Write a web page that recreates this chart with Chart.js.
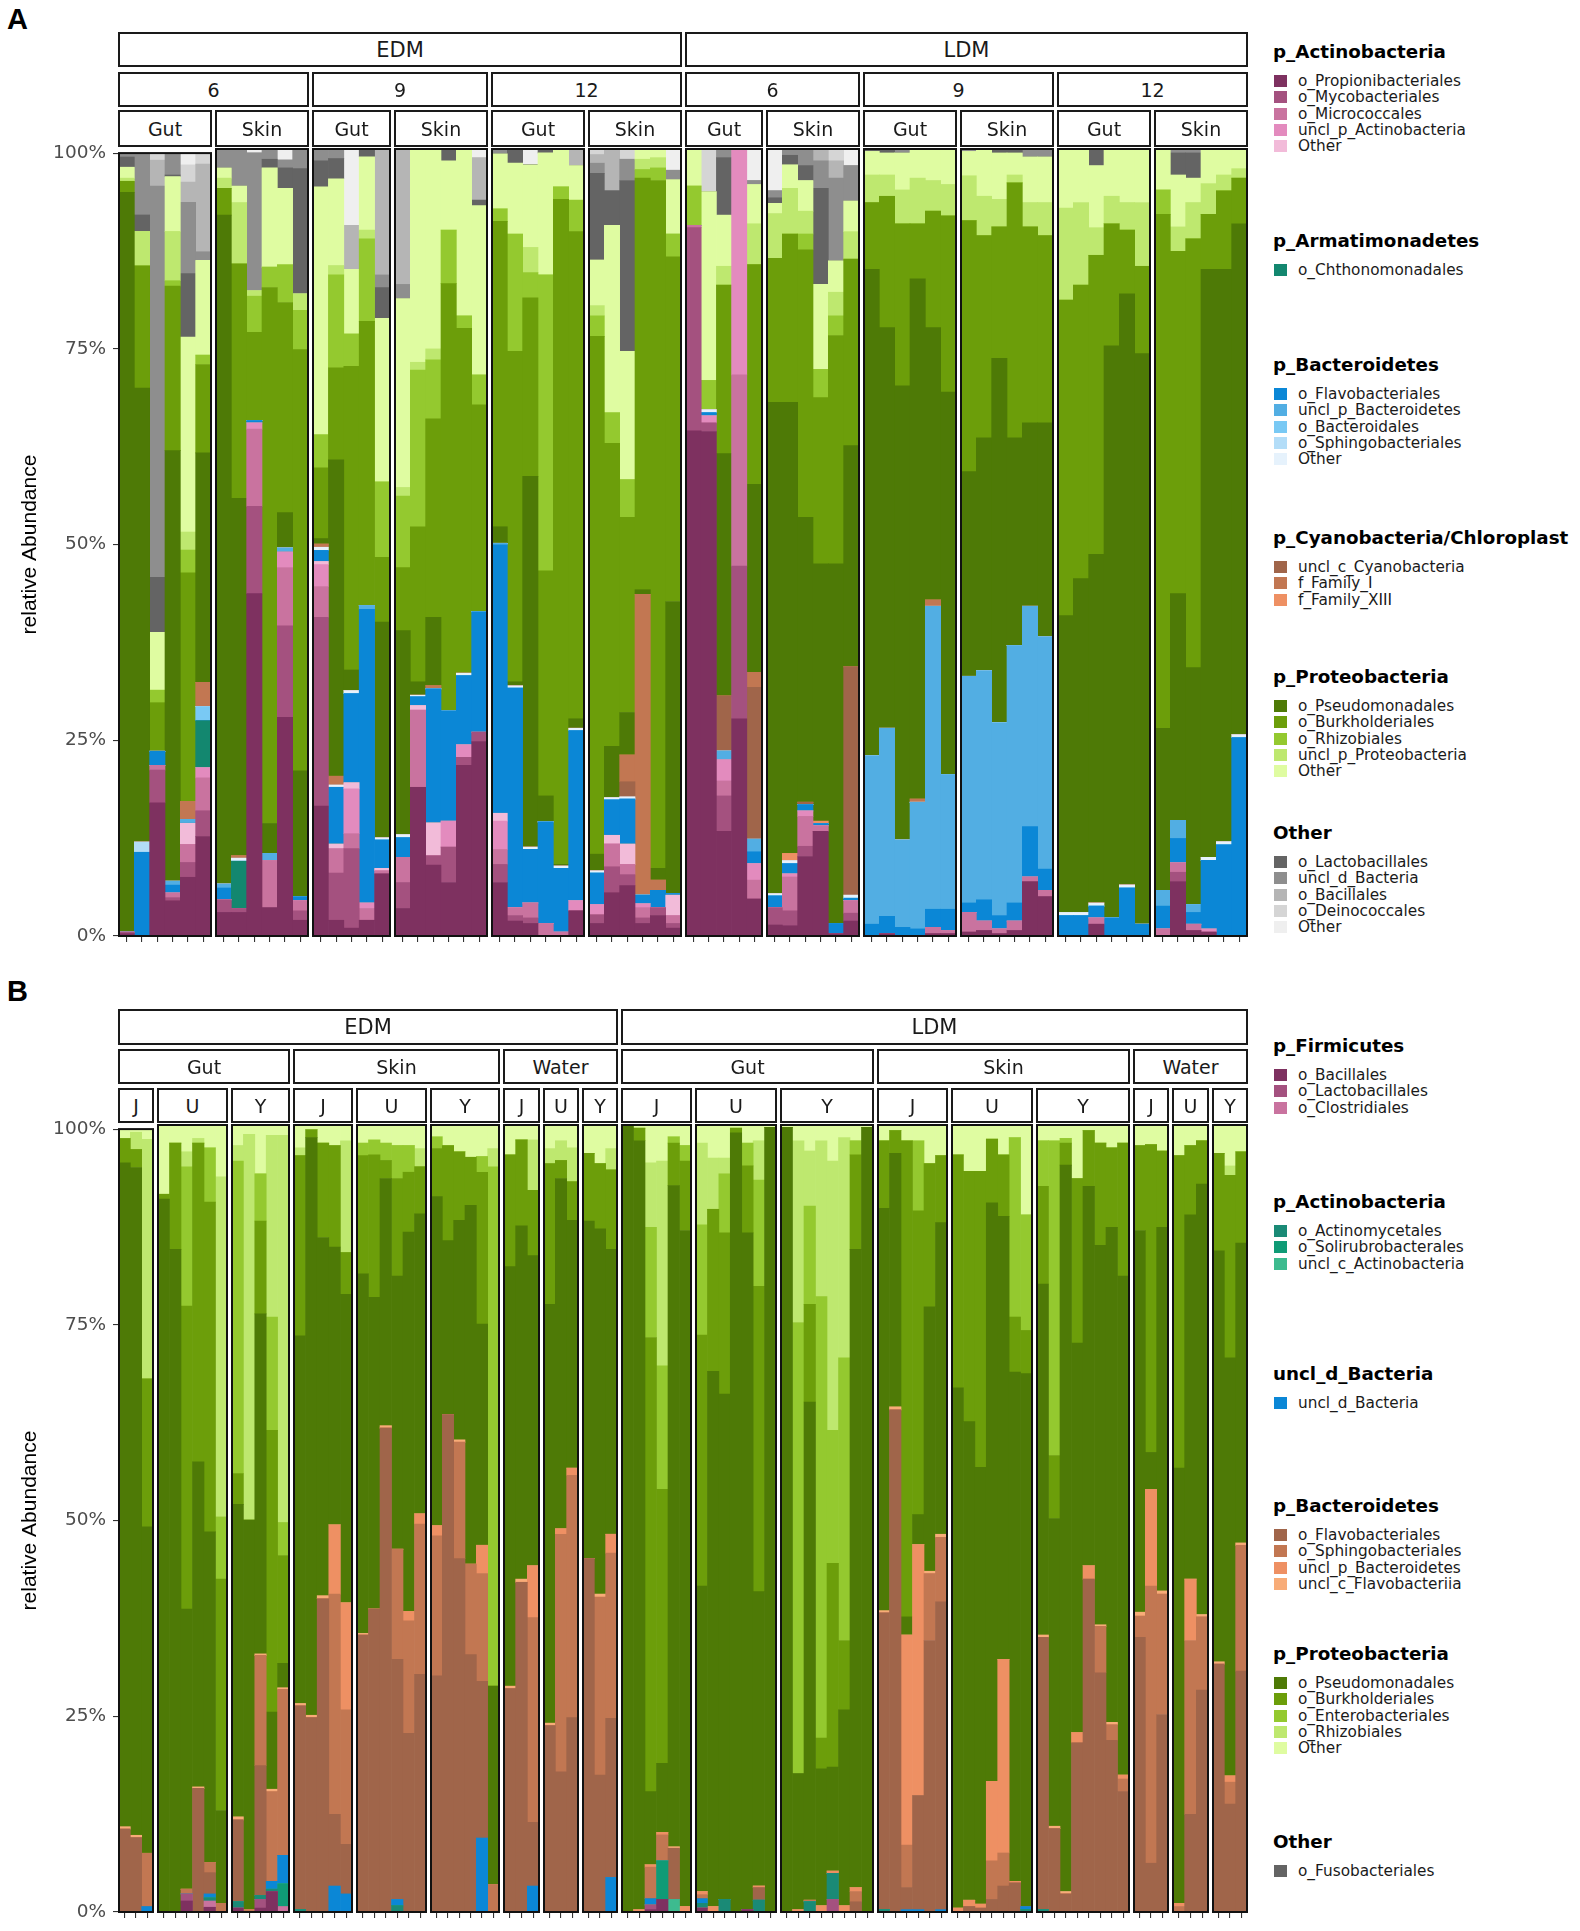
<!DOCTYPE html>
<html><head><meta charset="utf-8">
<script src="https://cdn.jsdelivr.net/npm/chart.js@4.4.1/dist/chart.umd.min.js"></script>
<style>
html,body{margin:0;padding:0;background:#fff;}
#root{position:relative;width:1580px;height:1931px;overflow:hidden;font-family:"DejaVu Sans",sans-serif;background:#fff;}
.strip{position:absolute;box-sizing:border-box;border:2px solid #1a1a1a;background:#fff;display:flex;align-items:center;justify-content:center;font-size:19px;color:#1a1a1a;white-space:nowrap;overflow:hidden;}
.strip.big{font-size:21px;}
.tag{position:absolute;font-family:"Liberation Sans",Arial,sans-serif;font-weight:bold;font-size:29px;line-height:29px;color:#000;}
.lg-title{position:absolute;font-weight:bold;font-size:18.3px;height:22px;line-height:22px;white-space:nowrap;color:#000;}
.lg-key{position:absolute;width:13px;height:12px;}
.lg-text{position:absolute;font-size:15.3px;height:20px;line-height:20px;white-space:nowrap;color:#1a1a1a;}
</style></head>
<body><div id="root"></div>
<script>
// ---------------- DATA : panel A (70 samples) ----------------
const A_facetBars = [6,6,5,6,6,6, 5,6,6,6,6,6];
const A_level1 = ['EDM','LDM'];
const A_level2 = ['6','9','12'];
const A_level3 = ['Gut','Skin'];

const A_Propionibacteriales = [.3,0,17,4.5,7.5,12.7,3,3,43.5,3.6, 27.8,2,16.5,2,1,2,7.9,3.5,18.9,9, 6.8,21.7,24.7,6.8,1.9,1.6,0,0,3.2,1.6, 5.5,6.4,1.6,2.6,1,64.2,64.1,13.3,27.6,4.7, 1.4,1.3,10.1,13.3,.3,1.9,0,.3,0,0, .3,.3,.5,.7,.3,.7,6.9,5,0,0, 1.5,0,0,0,0,6.9,.7,.5,0,0];
const A_Mycobacteriales = [.2,0,4.2,.4,1.9,3.3,1.6,.5,11.1,0, 11.6,1.2,24,6,10.1,0,0,3.3,0,1.2, 4.5,1,1.2,2.3,.7,.7,0,0,0,1.1, 3.3,1.4,.7,1,.6,25.8,1.1,4.5,19.4,0, 2.2,1.9,1.3,0,0,1,0,0,0,0, 0,0,0,0,0,0,0,0,0,0, 0,0,0,0,0,1.2,0,0,0,0];
const A_Micrococcales = [0,0,.6,.6,2.3,4.2,0,0,9.8,6, 7.4,1.3,3.9,3.1,1.9,1.5,.4,3.2,9.8,0, 0,0,0,1.9,1,1.9,1.6,.5,0,0, 2.9,1.3,1.3,0,1,.3,0,1.9,24.3,2.4, 0,4.3,3.8,.7,0,1.6,0,0,0,0, .8,.4,2.5,1.2,.6,1.2,.6,.8,0,0, .8,0,0,0,.9,1.2,.8,0,0,0];
const A_unclActinobacteria = [0,0,0,0,0,1.3,0,0,.8,0, 2,0,2.8,0,5.7,.7,0,0,0,0, 3.3,1.6,0,3.6,0,0,0,0,1.3,1.3, 0,0,.5,0,0,0,.9,2.7,28.7,2.1, 0,.4,.7,0,0,0,0,0,0,0, 0,0,0,0,0,0,0,0,0,0, 0,0,0,0,0,0,0,.4,0,0];
const A_otherActinobacteria = [0,0,0,0,2.7,0,0,0,0,0, 0,0,.4,.6,.8,0,.3,0,.6,4.2, 0,0,0,1,0,0,0,0,0,0, 1.1,2.6,0,0,2.6,0,0,0,0,0, 0,0,0,0,0,0,0,0,0,0, 0,0,0,0,0,0,0,0,0,0, 0,0,0,0,0,0,0,0,0,0];
const A_Chthonomonadales = [0,0,0,0,0,6,0,6,0,0, 0,0,0,0,0,0,0,0,0,0, 0,0,0,0,0,0,0,0,0,0, 0,0,0,0,0,0,0,0,0,0, 0,0,0,0,0,0,0,0,0,0, 0,0,0,0,0,0,0,0,0,0, 0,0,0,0,0,0,0,0,0,0];
const A_Flavobacteriales = [0,10.7,1.8,1,0,0,1.5,0,.3,0, 0,.5,1.4,7.2,11.3,37.3,3.6,2.5,1.1,17, 14,8.8,15.3,34.1,27.9,6.8,12.9,8.1,21.6,4, 4.5,5.7,1.1,2.2,.2,0,.4,0,0,1.5, 1.5,1.3,.8,.3,1.3,.3,1.5,2.2,1.1,.9, 2.3,2.7,1.2,2.7,1.7,2.3,6.4,2.7,2.6,2.6, 1.5,2.3,6.1,1.5,2.9,3.1,1.5,8.7,11.6,25.2];
const A_unclBacteroidetes = [0,0,0,.5,.5,0,.5,0,0,.9, .5,0,0,0,0,.5,0,0,0,0, 0,0,0,.2,0,0,0,0,0,0, 0,0,0,0,0,0,0,1.1,0,1.6, 0,0,0,0,0,0,21.4,23.9,11.1,16.1, 38.5,17.1,28.8,29.1,24.5,32.7,28,29.5,0,0, 0,0,0,0,2,2.3,1,0,0,0];
const A_Bacteroidales = [0,0,0,0,0,1.8,0,0,0,0, 0,0,0,0,0,0,0,0,0,0, 0,0,0,0,0,0,0,0,0,0, 0,0,0,0,0,0,0,0,0,0, 0,0,0,0,0,0,0,0,0,0, 0,0,0,0,0,0,0,0,0,0, 0,0,0,0,0,0,0,0,0,0];
const A_Sphingobacteriales = [0,1.3,0,0,0,0,0,0,0,0, 0,0,0,0,0,0,0,0,0,0, 0,0,0,0,0,0,0,0,0,0, 0,0,0,0,0,0,0,0,0,0, 0,0,0,0,0,0,0,0,0,0, 0,0,0,0,0,0,0,0,0,0, 0,0,0,0,0,0,0,0,0,0];
const A_otherBacteroidetes = [0,0,0,0,0,0,0,.4,0,0, 0,0,.4,.3,.4,0,.3,.4,.2,0, 0,.3,0,0,.3,.3,0,.3,.3,.3, .3,.3,0,0,0,0,.4,0,0,0, .3,.4,0,0,0,.4,0,0,0,0, 0,0,0,0,0,0,0,0,.4,.4, .4,0,.4,0,0,0,0,.4,.4,.4];
const A_unclCyanobacteria = [0,0,0,0,0,0,0,0,0,0, 0,0,0,0,0,0,0,0,0,0, 0,0,0,0,0,0,0,0,0,0, 0,1.9,0,0,0,0,0,7,0,19.3, 0,0,.3,0,0,29,0,0,0,0, 0,0,0,0,0,0,0,0,0,0, 0,0,0,0,0,0,0,0,0,0];
const A_Family_I = [0,0,0,0,2.3,3.1,0,.3,0,0, 0,0,.4,1.1,0,0,0,0,0,.4, 0,0,0,0,0,0,0,0,0,0, 0,3.4,38.2,1.3,0,0,0,0,0,1.9, 0,0,0,0,0,0,0,0,0,.4, .8,0,0,0,0,0,0,0,0,0, 0,0,0,0,0,0,0,0,0,0];
const A_Family_XIII = [0,0,0,0,0,0,0,0,0,0, 0,0,0,0,0,0,0,0,0,0, 0,0,0,0,0,0,0,0,0,0, 0,0,0,0,0,0,0,0,0,0, 0,.9,0,.3,0,0,0,0,0,0, 0,0,0,0,0,0,0,0,0,0, 0,0,0,0,0,0,0,0,0,0];
const A_Pseudomonadales = [94.5,58,0,55,0,29.3,85,45.4,0,3.8, 4.5,16,.7,40.2,2.6,0,27.4,25.9,1.7,8.7, 0,0,0,2.1,.5,47.1,3.3,.2,1.2,2.1, 6.5,5.4,.6,1.5,37.1,0,0,30.8,0,23.9, 62.4,57.3,36.2,32.7,45.7,28.1,61.8,50.9,57.7,66.1, 34.6,48.6,26,29.6,46.3,26.4,23.3,27.2,37.7,42.4, 44.3,72.7,75.1,72.5,20.6,28.8,30.1,74.7,72.7,64.9];
const A_Burkholderiales = [1.4,15.6,6.2,21,29.2,11.3,3.4,29.8,11.2,68.1, 26.7,53.5,9,11.7,38.6,36.1,8.2,8,19.7,25.2, 54.3,43.8,26.3,38.8,42,22.7,28.6,84.5,61.9,65.8, 38.5,24.8,52.3,87.4,43.8,0,0,21.4,0,27.9, 18.3,21.4,34,21.1,29,23.7,8.5,16.7,20.6,7, 14.8,22.4,31.9,25.7,16.7,32.4,24.9,23.8,40.1,37.3, 38,15.5,8.1,11.1,65.3,43.5,54.5,7,10,5.8];
const A_Rhizobiales = [0,0,1.6,.7,2.9,1.2,0,0,4.6,2.6, 4.8,5,4.2,11.8,4.1,10.5,9.6,9.1,19.9,7.5, 6.8,1.6,3.8,1.6,14.9,3.2,37.6,1.6,4,2.6, 3.9,4.8,1.1,1.6,2.9,5,3.7,0,0,0, 0,0,2,3.6,2.5,0,0,0,0,0, 0,0,0,0,0,0,0,0,0,0, 0,0,0,0,3.1,0,0,0,0,0];
const A_unclProteobacteria = [.4,4.4,0,6.3,2.3,0,1.3,7.8,.7,0, 0,2.1,0,1.2,0,1.1,0,1.1,1,1.4, 0,0,0,0,0,3.2,0,0,0,1.3, 0,0,1.3,1.3,0,0,0,2.4,0,5.2, 5.7,5.8,2.9,0,3,3.5,3.5,2.7,4.3,5.8, 3.9,4,5.7,5,3.5,1,3.1,4.2,11.7,10.5, 3.5,3.5,3.5,8.1,0,3.1,4.6,3.9,2,1.2];
const A_otherProteobacteria = [1.4,0,7.4,7,24.9,12.1,1.3,2.1,0,12.6, 9.7,0,31.5,11,8.2,9.3,20.8,24,27.1,25.4, 8.8,21.2,21.5,7,9,10.5,15.5,4.8,4.4,5.8, 23.8,16.3,1.3,1.1,6.9,4.7,24,6.5,0,5, 1.3,3,3.9,10.8,4,3.9,3,2.8,4.7,3.7, 4,4.5,3.1,6,5.9,2.8,5.8,5.8,7.5,6.8, 7.9,6,6.8,6.8,5.2,6.6,3.1,4.4,3.3,2.5];
const A_Lactobacillales = [1.3,2.1,7,.2,8.1,0,0,0,0,1.1, 2.6,15.9,3.3,2.6,0,1,3.9,0,0,0, 1.5,0,.7,0,1.8,0,.5,0,0,11, 4.4,21.7,0,0,0,0,0,7.3,0,0, .7,1.2,1.9,12.2,0,0,.3,.5,0,0, 0,0,0,0,.5,.5,0,0,0,0, 2.1,0,0,0,0,2.8,3.2,0,0,0];
const A_unclBacteria = [.5,7.9,50,2.8,9.1,1.1,2.4,4.7,17.5,1.3, 1,2.5,1.5,1.2,0,0,1.6,1.8,0,0, 0,0,0,.6,0,0,0,0,0,1.3, 0,2.7,0,0,1.2,0,0,1.1,0,.5, .9,.8,2.1,3.5,10.5,4.5,0,0,.5,0, 0,0,.3,0,0,0,1,1,0,0, 0,0,0,0,0,.5,.5,0,0,0];
const A_Bacillales = [0,0,3.3,0,2.6,11.2,0,0,0,0, 0,0,0,0,5.6,0,16,17.2,0,0, 0,0,5.4,0,0,0,0,0,2.1,1.1, 5.3,0,0,0,0,0,0,0,0,0, 0,0,0,1.5,2.2,0,0,0,0,0, 0,0,0,0,0,0,0,0,0,0, 0,0,0,0,0,0,0,0,0,0];
const A_Deinococcales = [0,0,.9,0,2.2,1.4,0,0,0,0, 0,0,0,0,0,0,0,0,0,0, 0,0,0,0,0,0,0,0,0,.7, 0,1.3,0,0,0,0,5.4,0,0,0, 0,0,0,0,1.5,0,0,0,0,0, 0,0,0,0,0,0,0,0,0,0, 0,0,0,0,0,0,0,0,0,0];
const A_otherOther = [0,0,0,0,1.5,0,0,0,.5,0, 1.4,0,0,0,9.7,0,0,0,0,0, 0,0,1.1,0,0,2,0,0,0,0, 0,0,0,0,2.7,0,0,0,0,4, 5.3,0,0,0,0,2.1,0,0,0,0, 0,0,0,0,0,0,0,0,0,0, 0,0,0,0,0,0,0,0,0,0];

const A_legend = [
  ['p_Actinobacteria', ['o_Propionibacteriales','o_Mycobacteriales','o_Micrococcales','uncl_p_Actinobacteria','Other']],
  ['p_Armatimonadetes', ['o_Chthonomonadales']],
  ['p_Bacteroidetes', ['o_Flavobacteriales','uncl_p_Bacteroidetes','o_Bacteroidales','o_Sphingobacteriales','Other']],
  ['p_Cyanobacteria/Chloroplast', ['uncl_c_Cyanobacteria','f_Family_I','f_Family_XIII']],
  ['p_Proteobacteria', ['o_Pseudomonadales','o_Burkholderiales','o_Rhizobiales','uncl_p_Proteobacteria','Other']],
  ['Other', ['o_Lactobacillales','uncl_d_Bacteria','o_Bacillales','o_Deinococcales','Other']]
];
const A_seriesData = [A_Propionibacteriales, A_Mycobacteriales, A_Micrococcales, A_unclActinobacteria, A_otherActinobacteria,
  A_Chthonomonadales,
  A_Flavobacteriales, A_unclBacteroidetes, A_Bacteroidales, A_Sphingobacteriales, A_otherBacteroidetes,
  A_unclCyanobacteria, A_Family_I, A_Family_XIII,
  A_Pseudomonadales, A_Burkholderiales, A_Rhizobiales, A_unclProteobacteria, A_otherProteobacteria,
  A_Lactobacillales, A_unclBacteria, A_Bacillales, A_Deinococcales, A_otherOther];

// ---------------- DATA : panel B (91 samples) ----------------
const B_facetBars = [3,6,5, 5,6,6, 3,3,3, 6,7,8, 6,7,8, 3,3,3];
const B_level1 = ['EDM','LDM'];
const B_level2 = ['Gut','Skin','Water'];
const B_level3 = ['J','U','Y'];

const B_Bacillales = [0,0,0,0,0,1.4,0,.6,0,.5, 0,.5,2.6,0,0,0,0,0,0,0, 0,0,0,0,0,0,0,0,0,0, 0,0,0,0,0,0,0,0,0,0, 0,0,.3,1.6,0,0,.5,0,0,0, .3,0,0,0,0,0,0,0,0,0, 0,0,0,0,0,0,0,0,0,0, 0,0,0,0,0,0,0,0,0,0, 0,0,0,0,0,0,0,0,0,0, 0];
const B_Lactobacillales = [0,0,0,0,0,.9,0,0,0,0, 0,1.1,0,0,0,0,0,0,0,0, 0,0,0,0,0,0,0,0,0,0, 0,0,0,0,0,0,0,0,0,0, 0,0,.6,0,0,0,0,0,0,0, 0,0,0,0,0,0,0,1.6,0,0, 0,0,0,0,0,0,0,0,0,0, 0,0,0,0,0,0,0,0,0,0, 0,0,0,0,0,0,0,0,0,0, 0];
const B_Clostridiales = [0,0,0,0,0,0,0,.8,0,0, 0,0,0,.7,0,0,0,0,0,0, 0,0,0,0,0,0,0,0,0,0, 0,0,0,0,0,0,0,0,0,0, 0,0,0,0,0,0,0,0,0,0, 0,0,0,0,0,0,0,0,0,0, 0,0,0,0,0,0,0,0,0,0, 0,0,0,0,0,0,0,0,0,0, 0,0,0,0,0,0,0,0,0,0, 0];
const B_Actinomycetales = [0,0,0,0,0,0,0,.4,0,.8, 0,.5,.3,0,.3,0,0,0,0,0, 0,0,.8,0,0,0,0,0,0,0, 0,0,0,0,0,0,0,0,0,0, 0,0,0,0,0,0,.6,0,1.6,0, 0,1.5,0,0,0,1.3,0,3.3,0,0, 0,.3,0,0,0,0,0,0,0,0, 0,0,0,.3,.3,0,0,0,0,0, 0,0,0,0,0,0,0,0,0,0, 0];
const B_Solirubrobacterales = [0,0,0,0,0,0,0,0,0,0, 0,0,0,2.9,0,0,0,0,0,0, 0,0,0,0,0,0,0,0,0,0, 0,0,0,0,0,0,0,0,0,0, 0,0,0,4.9,0,0,0,0,0,0, 0,0,0,0,0,0,0,0,0,0, 0,0,0,0,0,0,0,0,0,0, 0,0,0,0,0,0,0,0,0,0, 0,0,0,0,0,0,0,0,0,0, 0];
const B_unclActinobacteria = [0,0,0,0,0,0,0,0,0,0, 0,0,0,0,0,0,0,0,0,0, 0,0,0,0,0,0,0,0,0,0, 0,0,0,0,0,0,0,0,0,0, 0,0,0,0,1.6,0,0,0,0,0, 0,0,0,0,0,0,0,0,0,0, 0,0,0,0,0,0,0,0,0,0, 0,0,0,0,0,0,0,0,0,0, 0,0,0,0,0,0,0,0,0,0, 0];
const B_unclBacteria = [0,0,.7,0,0,0,0,.5,0,0, 0,0,1,3.6,0,0,0,3.3,2.3,0, 0,0,.8,0,0,0,0,0,0,9.4, 0,0,0,3.3,0,0,0,0,0,4.4, 0,0,.8,0,0,0,.6,0,0,0, 0,0,0,0,0,0,0,0,0,0, 0,0,0,.3,.3,0,.3,0,0,0, 0,0,0,.4,0,0,0,0,0,0, 0,0,0,0,0,0,0,0,0,0, 0];
const B_Flavobacteriales = [10.6,9.5,0,0,0,0,15.7,2.7,0,10.4, 0,16.5,0,0,25.9,24.7,39.8,9.1,6.3,35.2, 38.5,61.5,30.5,22.7,30.2,30,63.2,44.9,32.7,19.9, 0,28.4,41.9,8.1,23.7,17.8,24.7,44.9,17.4,20.2, 0,0,0,0,6.5,0,0,0,0,0, 0,1.6,0,0,0,0,0,0,0,1.3, 0,37.7,63.8,2.8,14.5,34.5,39.1,0,.7,.5, 1.6,3.3,3.7,0,34.6,10.6,2.3,21.5,42.3,30.4, 21.8,15.3,34.9,6.2,25.1,0,12.4,28.2,31.5,13.7, 30.6];
const B_Sphingobacteriales = [0,0,6.8,0,0,.6,0,1.3,1.1,0, .3,14,11.4,21.1,0,0,0,28,17.1,0, 0,0,14,14.3,19.1,17.8,0,14.8,11.5,13.7, 3.5,0,0,26,0,30.2,30.8,0,22.6,21, 0,0,4,3.3,0,0,.5,0,0,0, 0,0,0,0,0,.2,0,0,0,1.3, 0,0,0,5.4,0,8.5,8.2,0,0,0, 4.9,4.2,0,0,0,0,0,0,0,5.9, 2,1.6,2.7,35.2,15.3,.7,22.1,9.3,0,2.8, 16];
const B_unclBacteroidetes = [0,0,0,0,0,0,0,0,0,0, 0,0,0,0,0,0,0,8.8,13.6,0, 0,0,0,1.2,1.3,1.3,0,0,0,3.6, 0,0,0,6.6,0,.7,.9,0,0,2.4, 0,.3,.3,.3,0,.7,.4,.7,0,0, 0,.2,0,0,.3,0,.8,.3,.8,.5, 0,0,0,26.7,31.9,0,0,.5,.8,.5, 10.1,24.6,.2,0,0,0,0,1.3,1.7,0, 0,.5,0,12.3,0,.4,7.8,0,0,.8, 0];
const B_unclFlavobacteriia = [.3,.3,0,0,0,0,.2,0,0,.4, 0,.2,.3,.2,.3,.3,.4,0,0,.2, 0,.3,0,0,0,0,0,.3,0,0, 0,.3,.4,0,.3,0,0,0,.4,0, 0,0,0,0,.2,0,0,0,0,0, 0,0,0,0,0,0,0,0,0,0, 0,.3,.4,0,0,.3,.4,0,0,0, 0,0,0,0,.3,.3,.3,0,0,.2, .3,0,.5,0,.4,0,0,.3,.3,0, .3];
const B_Pseudomonadales = [84.8,85.3,41.7,90.6,84.2,35.6,41.3,42,11.8,39.7, 49.5,43.2,9.8,3.1,46.7,73.4,45.5,35.3,39.2,45.7, 39.6,31.4,34.7,48.2,38.1,41.8,22.1,27.9,45.6,28.1, 25.2,53.3,44.9,39.4,53.2,44.5,31.5,42.9,46.4,36.2, 100,97.7,9.3,8.8,84,85.9,38.8,68,64.2,99, 86,37.4,99.7,99.7,17.3,63.3,17.4,13.2,24.9,81.1, 99.7,51.1,32.2,2.3,3.8,33.6,39.6,66.1,60.8,55.5, 73.5,56.3,64.7,67.7,44.6,39.1,92.3,49.5,48.2,48.2, 62.9,63.4,48.5,4.7,46.2,55.3,46.3,54.7,52.2,53.1, 38.1];
const B_Burkholderiales = [3.1,2.3,18.9,.6,13.5,38.5,40.5,41.9,29.4,3.9, 0,11.8,35.8,13.7,22.9,1,12,12.9,5.3,15, 18.1,2.3,12.4,7.6,6,6.1,12.1,8.7,6.1,19.3, 0,14.2,10.9,8.3,17.9,2.3,4.9,8.6,8.3,10.1, 0,1.6,57.7,34.8,5.4,8.8,31.9,20.6,20.5,.6, 8.5,38.8,0,0,0,12.4,3.9,25.9,8.8,12, 0,8.6,2.9,60.5,38.6,18.2,8.5,29.6,31.8,37.6, 8.1,7.8,7,5.5,12.4,8,2.8,20.9,7.1,13, 10.1,16.9,10.8,39.1,9.7,39.7,8.8,5.5,12.4,23.2, 11.6];
const B_Enterobacteriales = [0,0,0,0,0,17.7,0,6.9,7.9,39.7, 0,6,14.4,4.2,0,0,0,0,0,1.6, 1.9,2.2,4.2,3.4,0,1.5,0,0,0,2, 66,0,0,0,0,0,0,0,0,0, 0,0,14,15.7,.8,2,14,0,7.5,0, 2.9,13.5,0,0,57.3,12.5,56.1,16.9,35.9,1.8, 0,0,0,0,8.9,0,0,0,0,0, 0,0,22.8,14.7,5.8,40,.6,0,0,0, 0,0,0,0,0,0,0,0,0,0, 0];
const B_Rhizobiales = [0,2.2,30.6,0,0,1.9,.6,0,43.2,2, 49,0,23.1,49.2,1,0,0,0,14.2,0, 0,0,0,0,2.3,0,0,0,0,0, 2.3,0,0,6.4,1.9,2.5,4.3,0,0,2.7, 0,0,8.2,26,0,0,10.4,6.5,2,0, 0,5,0,0,23.1,7,19.8,34.2,28,0, 0,0,0,0,0,0,0,0,0,0, 0,0,0,0,0,0,0,0,0,0, 0,0,0,0,0,0,0,0,0,1.2, 0];
const B_otherProteobacteria = [1.2,.4,1.3,8.8,2.3,3.4,1.7,2.9,6.6,2.6, 1.2,6.2,1.3,1.3,2.9,.6,2.3,2.6,2,2.3, 1.9,2.3,2.6,2.6,3,1.5,2.6,3.4,4.1,4, 3,3.8,1.9,1.9,3,2,2.9,3.6,4.9,3, 0,.4,4.8,4.6,1.5,2.6,2.3,4.2,4.2,.4, 2.3,2,.3,.3,2,3.3,2,4.6,1.6,2, .3,2,.7,2,2,4.9,3.9,3.8,5.9,5.9, 1.8,3.8,1.6,11.4,2,2,1.7,6.8,.7,2.3, 2.9,2.3,2.6,2.5,3.3,3.9,2.6,2,3.6,5.2, 3.4];
const B_Fusobacteriales = [0,0,0,0,0,0,0,0,0,0, 0,0,0,0,0,0,0,0,0,0, 0,0,0,0,0,0,0,0,0,0, 0,0,0,0,0,0,0,0,0,0, 0,0,0,0,0,0,0,0,0,0, 0,0,0,0,0,0,0,0,0,0, 0,0,0,0,0,0,0,0,0,0, 0,0,0,0,0,0,0,0,0,0, 0,0,0,0,0,0,0,0,0,0, 0];

const B_legend = [
  ['p_Firmicutes', ['o_Bacillales','o_Lactobacillales','o_Clostridiales']],
  ['p_Actinobacteria', ['o_Actinomycetales','o_Solirubrobacterales','uncl_c_Actinobacteria']],
  ['uncl_d_Bacteria', ['uncl_d_Bacteria']],
  ['p_Bacteroidetes', ['o_Flavobacteriales','o_Sphingobacteriales','uncl_p_Bacteroidetes','uncl_c_Flavobacteriia']],
  ['p_Proteobacteria', ['o_Pseudomonadales','o_Burkholderiales','o_Enterobacteriales','o_Rhizobiales','Other']],
  ['Other', ['o_Fusobacteriales']]
];
const B_seriesData = [B_Bacillales, B_Lactobacillales, B_Clostridiales,
  B_Actinomycetales, B_Solirubrobacterales, B_unclActinobacteria,
  B_unclBacteria,
  B_Flavobacteriales, B_Sphingobacteriales, B_unclBacteroidetes, B_unclFlavobacteriia,
  B_Pseudomonadales, B_Burkholderiales, B_Enterobacteriales, B_Rhizobiales, B_otherProteobacteria,
  B_Fusobacteriales];

const yTickLabels = ['0%','25%','50%','75%','100%'];
const yTitle = 'relative Abundance';

// ---------------- STYLE ----------------
const A_colors = ['#7e3160','#a4517f','#c9739f','#e38bbe','#f2bbd9',
  '#13876f',
  '#0b87d6','#52aee3','#79c9f4','#b3ddf8','#e6f2fc',
  '#a0654a','#c27752','#ee9063',
  '#4e7a06','#6c9e0a','#94c92f','#bee86f','#dffca1',
  '#646464','#8e8e8e','#b5b5b5','#d5d5d5','#efefef'];
const B_colors = ['#7e3160','#a4517f','#c9739f',
  '#1a8a76','#0f9b76','#3dbb8f',
  '#0b87d6',
  '#a0654a','#c27752','#ee9063','#f8ac78',
  '#4e7a06','#6c9e0a','#94c92f','#bee86f','#dffca1',
  '#646464'];

const X0 = 119, X1 = 1247, GAP = 5;
const PAD_T = 14, PAD_B = 14, TICK = 6, PAD_X = 3;
const root = document.getElementById('root');

const framePlugin = {
  id: 'frame',
  afterDraw(chart) {
    const {ctx, chartArea: a} = chart;
    ctx.save();
    ctx.strokeStyle = '#111';
    ctx.lineWidth = 2;
    ctx.strokeRect(a.left, a.top, a.right - a.left, a.bottom - a.top);
    ctx.restore();
  }
};

function facetRects(counts) {
  const nb = counts.reduce((a, b) => a + b, 0);
  const bw = (X1 - X0 - GAP * (counts.length - 1)) / nb;
  let cur = X0; const out = [];
  counts.forEach(n => {
    const s = cur, e = cur + n * bw;
    out.push({s: Math.round(s), e: Math.round(e)});
    cur = e + GAP;
  });
  return out;
}

function makeFacet(seriesData, names, colors, from, n, rect, top, bottom, withAxis, labels) {
  const cv = document.createElement('canvas');
  const left = withAxis ? 0 : rect.s - PAD_X;
  const w = rect.e + PAD_X - left;
  const h = bottom - top + PAD_T + PAD_B + TICK;
  cv.width = w; cv.height = h;
  cv.style.cssText = `position:absolute;left:${left}px;top:${top - PAD_T}px;width:${w}px;height:${h}px;`;
  root.appendChild(cv);
  const yScale = {stacked: true, display: withAxis, min: 0, max: 100,
    ticks: {stepSize: 25, callback: v => yTickLabels[Math.round(v / 25)], color: '#4d4d4d',
            font: {family: 'DejaVu Sans', size: 18.5}, padding: 7},
    grid: {drawOnChartArea: false, drawTicks: true, tickLength: 6, color: '#333', lineWidth: 1.1},
    border: {display: false},
    title: {display: withAxis, text: yTitle, color: '#000', font: {family: 'Liberation Sans', size: 21}, padding: {top: 18, bottom: 0}}};
  if (withAxis) yScale.afterFit = sc => { sc.width = rect.s; };
  new Chart(cv, {
    type: 'bar',
    data: {
      labels: labels.slice(from, from + n),
      datasets: seriesData.map((arr, i) => ({
        label: names[i],
        data: arr.slice(from, from + n),
        backgroundColor: colors[i],
        borderWidth: 0,
        barPercentage: 1,
        categoryPercentage: 1
      }))
    },
    options: {
      responsive: false, animation: false, devicePixelRatio: 1,
      layout: {padding: {top: PAD_T, bottom: PAD_B, left: withAxis ? 0 : PAD_X, right: PAD_X}},
      plugins: {legend: {display: false}, tooltip: {enabled: false}},
      scales: {
        x: {stacked: true, offset: true,
            grid: {display: true, offset: false, drawOnChartArea: false, drawTicks: true, tickLength: TICK, color: '#333', lineWidth: 1.1},
            border: {display: false}, ticks: {display: false}},
        y: yScale
      }
    },
    plugins: [framePlugin]
  });
}

function addStrip(text, l, r, t, b, big) {
  const d = document.createElement('div');
  d.className = big ? 'strip big' : 'strip';
  d.style.left = l + 'px'; d.style.top = t + 'px';
  d.style.width = (r - l) + 'px'; d.style.height = (b - t) + 'px';
  d.textContent = text;
  root.appendChild(d);
}

function buildPanel(cfg) {
  const rects = facetRects(cfg.counts);
  const names = [].concat(...cfg.legend.map(g => g[1]));
  const labels = [];
  cfg.counts.forEach((n, fi) => {
    const l1 = cfg.levels[0][Math.floor(fi / cfg.spans[0]) % cfg.levels[0].length];
    const l2 = cfg.levels[1][Math.floor(fi / cfg.spans[1]) % cfg.levels[1].length];
    const l3 = cfg.levels[2][Math.floor(fi / cfg.spans[2]) % cfg.levels[2].length];
    for (let k = 0; k < n; k++) labels.push(`${l1}-${l2}-${l3}-${k + 1}`);
  });
  let from = 0;
  cfg.counts.forEach((n, fi) => {
    makeFacet(cfg.series, names, cfg.colors, from, n, rects[fi], cfg.top, cfg.bottom, fi === 0, labels);
    from += n;
  });
  for (let lv = 0; lv < 3; lv++) {
    const span = cfg.spans[lv];
    const [t, b] = cfg.rows[lv];
    for (let i = 0; i * span < rects.length; i++) {
      const txt = cfg.levels[lv][i % cfg.levels[lv].length];
      addStrip(txt, rects[i * span].s - 1, rects[i * span + span - 1].e + 1, t, b, lv === 0);
    }
  }
  let ci = 0;
  cfg.legend.forEach((g, gi) => {
    const ty = cfg.legendY[gi];
    const t = document.createElement('div');
    t.className = 'lg-title'; t.textContent = g[0];
    t.style.left = cfg.legendX + 'px'; t.style.top = (ty - 11) + 'px';
    root.appendChild(t);
    g[1].forEach((nm, k) => {
      const cy = ty + 29 + k * 16.3;
      const key = document.createElement('div');
      key.className = 'lg-key';
      key.style.left = (cfg.legendX + 1) + 'px'; key.style.top = (cy - 6) + 'px';
      key.style.background = cfg.colors[ci];
      root.appendChild(key);
      const tx = document.createElement('div');
      tx.className = 'lg-text'; tx.textContent = nm;
      tx.style.left = (cfg.legendX + 25) + 'px'; tx.style.top = (cy - 10) + 'px';
      root.appendChild(tx);
      ci++;
    });
  });
  const tag = document.createElement('div');
  tag.className = 'tag'; tag.textContent = cfg.tag;
  tag.style.left = '7px'; tag.style.top = cfg.tagTop + 'px';
  root.appendChild(tag);
}

buildPanel({
  tag: 'A', tagTop: 5,
  counts: A_facetBars, levels: [A_level1, A_level2, A_level3], spans: [6, 2, 1],
  rows: [[32, 67], [72, 107], [110, 147]],
  top: 149, bottom: 936,
  series: A_seriesData, colors: A_colors, legend: A_legend,
  legendX: 1273, legendY: [52, 241, 365, 538, 677, 833]
});
buildPanel({
  tag: 'B', tagTop: 977,
  counts: B_facetBars, levels: [B_level1, B_level2, B_level3], spans: [9, 3, 1],
  rows: [[1009, 1045], [1049, 1084], [1088, 1123]],
  top: 1125, bottom: 1912,
  series: B_seriesData, colors: B_colors, legend: B_legend,
  legendX: 1273, legendY: [1046, 1202, 1374, 1506, 1654, 1842]
});

const bad = [];
A_seriesData.forEach((a, i) => { if (a.length !== 70) bad.push('A' + i + ':' + a.length); });
B_seriesData.forEach((a, i) => { if (a.length !== 91) bad.push('B' + i + ':' + a.length); });
if (bad.length) throw new Error('length mismatch ' + bad.join(','));
</script>
</body></html>
